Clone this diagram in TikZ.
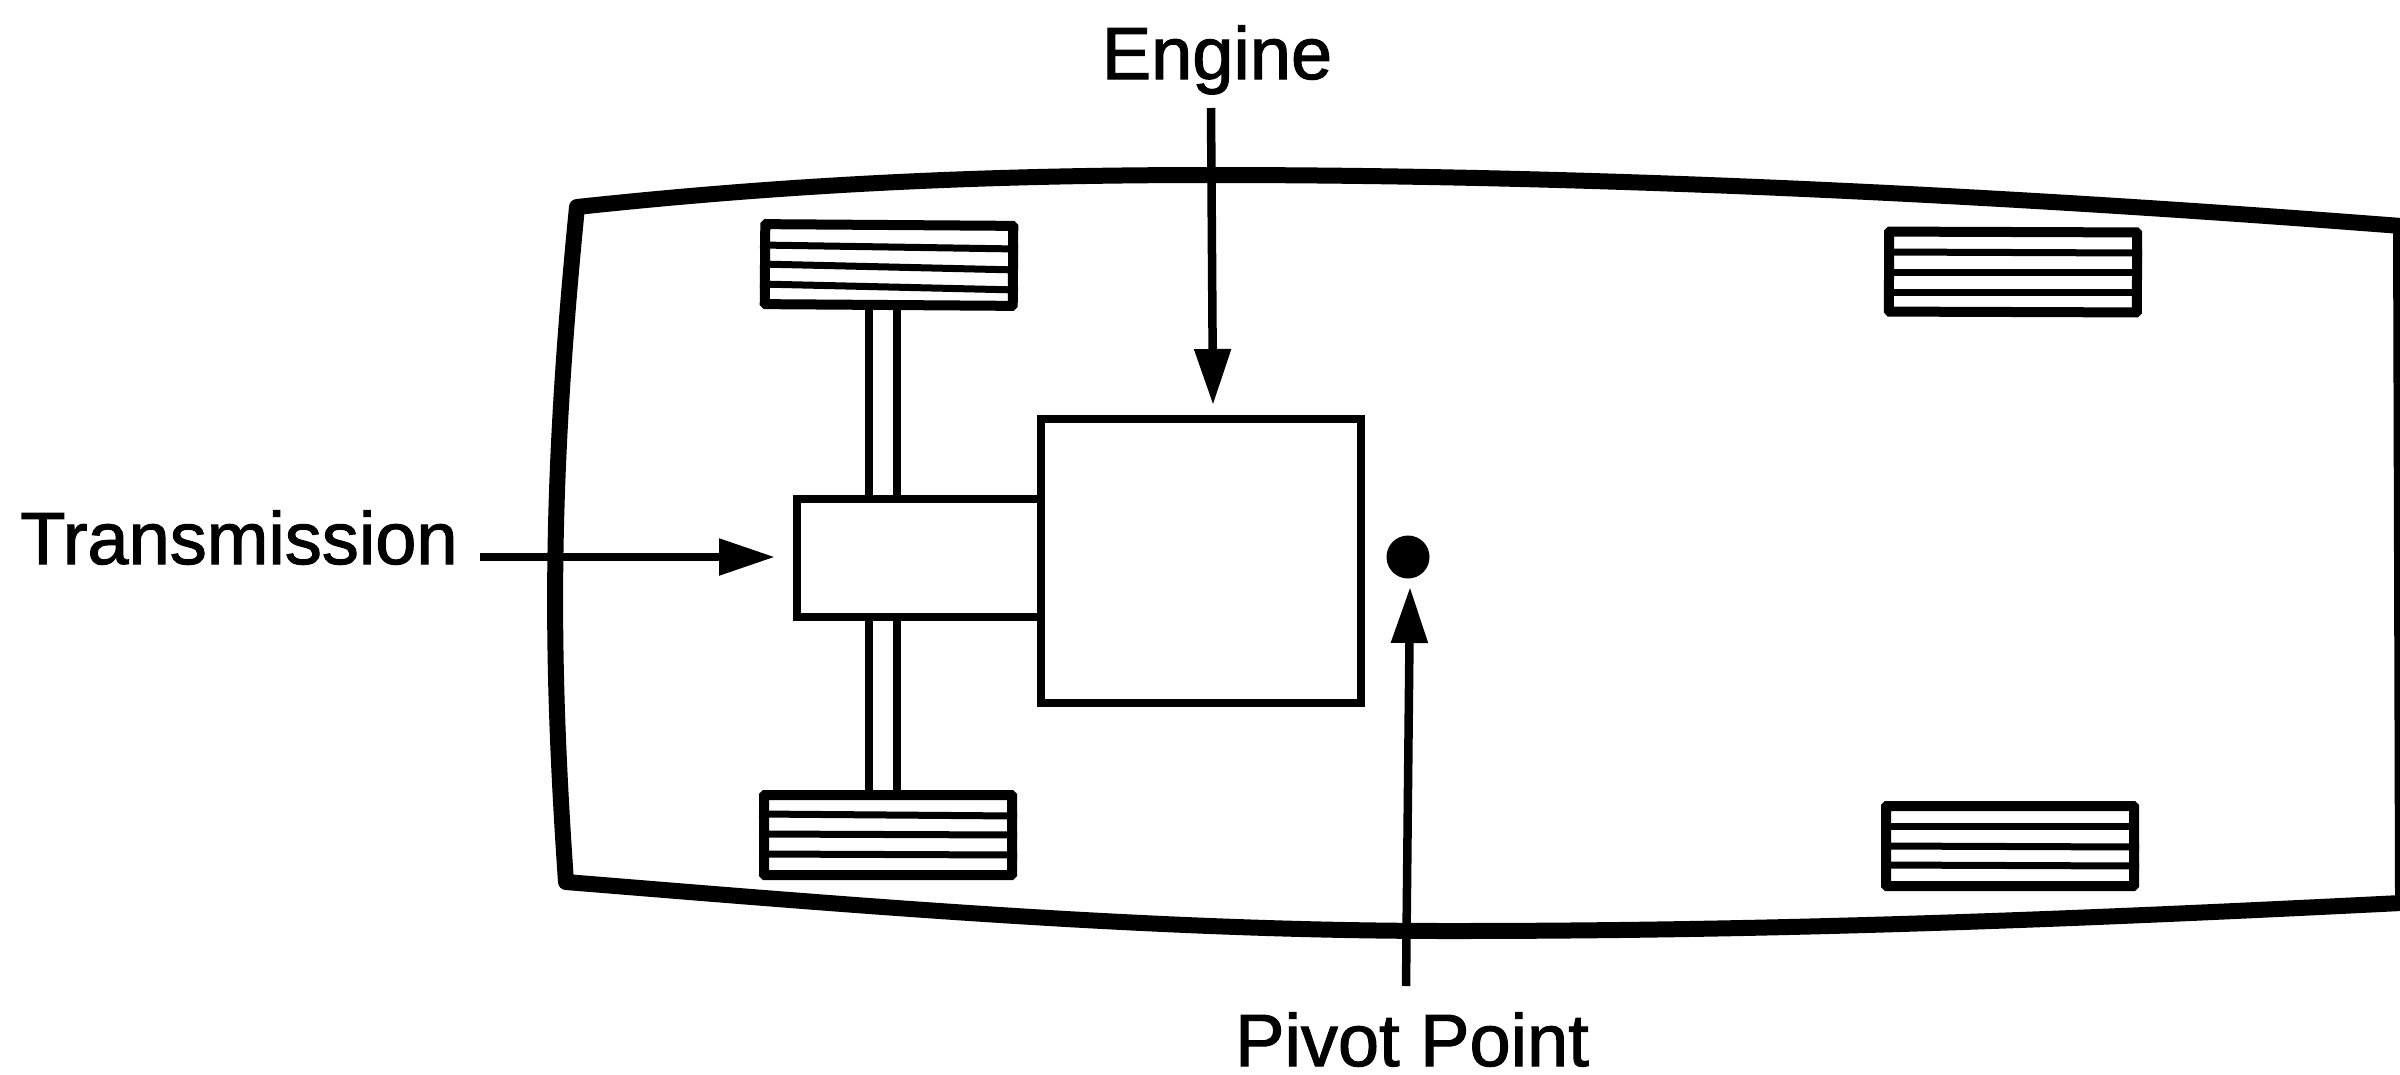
\documentclass[tikz,border=0pt]{standalone}
\usepackage{fontspec}
\setmainfont{Liberation Sans}
\usetikzlibrary{arrows.meta}
\tikzset{
  body/.style={line width=16pt,line join=round},
  wheelbox/.style={draw,line width=10pt,rounded corners=1pt,inner sep=0pt,minimum width=248pt,minimum height=80pt},
  tread/.style={line width=7pt},
  partbox/.style={draw,line width=7.5pt,inner sep=0pt},
  axle/.style={line width=8pt},
  pointer/.style={line width=8.5pt,-{Triangle[length=56pt,width=35pt]}},
  lbl/.style={font=\fontsize{74}{80}\selectfont\addfontfeature{FakeBold=1.5},inner sep=0pt,text=black,anchor=base},
}
\begin{document}
\begin{tikzpicture}[x=1pt,y=-1pt]
\useasboundingbox (0,0) rectangle (2400,1074);
\clip (0,0) rectangle (2400,1074);
\fill[white] (0,0) rectangle (2400,1074);
% chassis
\draw[body] (577,207) .. controls (800,183) and (1000,175) .. (1210,175)
  .. controls (1600,175) and (2000,195) .. (2401,226)
  -- (2403,900)
  -- (2401,903) .. controls (2100,918) and (1800,931) .. (1450,931)
  .. controls (1150,931) and (850,905) .. (566,882)
  .. controls (550,650) and (550,480) .. (577,207)
  -- cycle;
% wheels
\node[wheelbox,rotate=-0.4] (wheelTL) at (889,265) {};
\node[wheelbox,rotate=-0.2] (wheelTR) at (2013,272) {};
\node[wheelbox] (wheelBL) at (888,835) {};
\node[wheelbox] (wheelBR) at (2010,846) {};
\draw[tread] (wheelTL.west |- 0,245) -- (wheelTL.east |- 0,249);
\draw[tread] (wheelTL.west |- 0,264) -- (wheelTL.east |- 0,270);
\draw[tread] (wheelTL.west |- 0,284) -- (wheelTL.east |- 0,290);
\draw[tread] (wheelTR.west |- 0,252) -- (wheelTR.east |- 0,253);
\draw[tread] (wheelTR.west |- 0,272) -- (wheelTR.east |- 0,272);
\draw[tread] (wheelTR.west |- 0,292) -- (wheelTR.east |- 0,292);
\draw[tread] (wheelBL.west |- 0,814) -- (wheelBL.east |- 0,816);
\draw[tread] (wheelBL.west |- 0,834) -- (wheelBL.east |- 0,835);
\draw[tread] (wheelBL.west |- 0,854) -- (wheelBL.east |- 0,855);
\draw[tread] (wheelBR.west |- 0,826) -- (wheelBR.east |- 0,826);
\draw[tread] (wheelBR.west |- 0,846) -- (wheelBR.east |- 0,847);
\draw[tread] (wheelBR.west |- 0,865) -- (wheelBR.east |- 0,866);
% engine and transmission
\node[partbox,minimum width=320pt,minimum height=284pt] (engine) at (1201,561) {};
\node[partbox,minimum width=244pt,minimum height=118pt] (transmission) at (919,558) {};
\node[circle,fill=black,inner sep=0pt,minimum size=43pt] (pivot) at (1408,557) {};
% axles
\coordinate (ax1) at (869,0);
\coordinate (ax2) at (897,0);
\draw[axle] (wheelTL.south -| ax1) -- (transmission.north -| ax1);
\draw[axle] (wheelTL.south -| ax2) -- (transmission.north -| ax2);
\draw[axle] (transmission.south -| ax1) -- (wheelBL.north -| ax1);
\draw[axle] (transmission.south -| ax2) -- (wheelBL.north -| ax2);
% labels
\node[lbl] (lblEngine) at (1217,79) {Engine};
\node[lbl] (lblTrans) at (239,564) {Transmission};
\node[lbl] (lblPivot) at (1412,1066) {Pivot Point};
% pointers
\coordinate (engStart) at (1211,108);
\coordinate (engEnd) at (1213,405);
\coordinate (trStart) at (480,557);
\coordinate (trEnd) at (775,557);
\coordinate (pvStart) at (1406,986);
\coordinate (pvEnd) at (1410,587);
\draw[pointer] (engStart) -- (engEnd);
\draw[pointer] (trStart) -- (trEnd);
\draw[pointer] (pvStart) -- (pvEnd);
\end{tikzpicture}
\end{document}
